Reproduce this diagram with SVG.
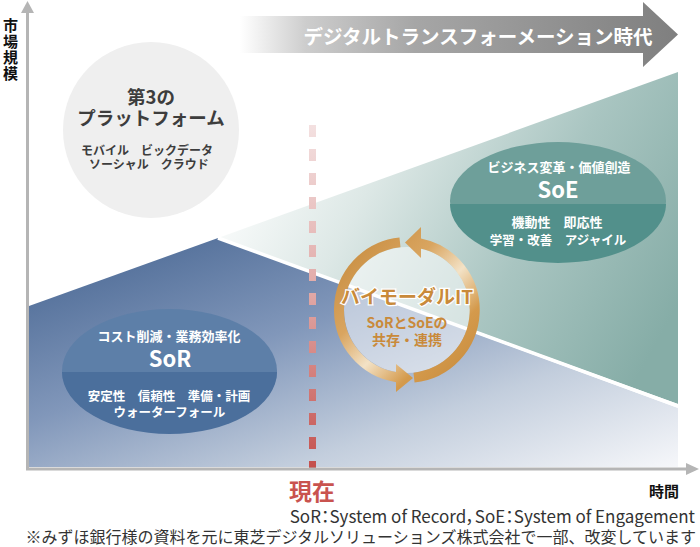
<svg xmlns="http://www.w3.org/2000/svg" width="700" height="547" viewBox="0 0 700 547">
<defs>
<style>
text{font-family:"Noto Sans CJK JP","Noto Sans",sans-serif;dominant-baseline:central;text-anchor:middle}
.b{font-weight:700}
.w{fill:#ffffff;font-weight:700}
.g{fill:#3d3d3d;font-weight:700}
.o{fill:#c98a3a;font-weight:700}
.axis{stroke:#b5b5b5;stroke-width:3;fill:none}
.ring{fill:none;stroke:url(#ringG);stroke-width:10}
</style>
<linearGradient id="dxG" gradientUnits="userSpaceOnUse" x1="240" y1="0" x2="678" y2="0">
<stop offset="0" stop-color="#ffffff"/>
<stop offset="0.15" stop-color="#cdcdcd"/>
<stop offset="0.4" stop-color="#a6a6a6"/>
<stop offset="1" stop-color="#7f7f7f"/>
</linearGradient>
<linearGradient id="blueG" x1="0" y1="0" x2="1" y2="1">
<stop offset="0" stop-color="#43628f"/>
<stop offset="0.4" stop-color="#8197ba"/>
<stop offset="0.7" stop-color="#c3cedd"/>
<stop offset="1" stop-color="#f6f7fa"/>
</linearGradient>
<linearGradient id="tealG" x1="0" y1="0.3" x2="1" y2="0.7">
<stop offset="0" stop-color="#ffffff"/>
<stop offset="0.3" stop-color="#dde8e6"/>
<stop offset="0.65" stop-color="#a9c5c1"/>
<stop offset="1" stop-color="#86ada7"/>
</linearGradient>
<linearGradient id="dashG" gradientUnits="userSpaceOnUse" x1="0" y1="120" x2="0" y2="468">
<stop offset="0" stop-color="#f4e2e2"/>
<stop offset="0.5" stop-color="#e0a8a6"/>
<stop offset="1" stop-color="#c4504d"/>
</linearGradient>
<linearGradient id="ringG" gradientUnits="userSpaceOnUse" x1="339" y1="242" x2="475" y2="378">
<stop offset="0" stop-color="#c68a3c"/>
<stop offset="0.35" stop-color="#d9a560"/>
<stop offset="0.55" stop-color="#f3e2c6"/>
<stop offset="0.75" stop-color="#d49a4c"/>
<stop offset="1" stop-color="#c68a3c"/>
</linearGradient>
</defs>
<rect width="700" height="547" fill="#ffffff"/>

<g id="dx-arrow">
<polygon points="240,16 643,16 643,2 678,34.5 643,67 643,53 240,53" fill="url(#dxG)"/>
<text x="478" y="35" class="w" font-size="19.5">デジタルトランスフォーメーション時代</text>
</g>

<g id="soe-area">
<polygon points="218,238 678,72 678,404" fill="url(#tealG)"/>
</g>
<g id="sor-area">
<polygon points="29,306 218,238 678,408 678,467 29,467" fill="url(#blueG)"/>
</g>
<g id="separator">
<line x1="218" y1="238" x2="678" y2="406" stroke="#ffffff" stroke-width="3.5"/>
</g>

<g id="third-platform">
<circle cx="151" cy="130" r="88" fill="#efefef"/>
<text class="g" font-size="18.5"><tspan x="151" y="96">第3の</tspan><tspan x="151" y="116.5">プラットフォーム</tspan></text>
<text class="g" font-size="12"><tspan x="147" y="148.5">モバイル　ビックデータ</tspan><tspan x="149" y="162.5">ソーシャル　クラウド</tspan></text>
</g>

<g id="soe">
<ellipse cx="558" cy="201" rx="108" ry="59" fill="#6e9f9a"/>
<path d="M450,204 A108,59 0 0 0 666,204 Z" fill="#52908b"/>
<text x="559" y="166" class="w" font-size="13">ビジネス変革・価値創造</text>
<text x="558" y="188" class="w" font-size="22">SoE</text>
<text class="w" font-size="13"><tspan x="557" y="221">機動性　即応性</tspan><tspan x="558" y="239" font-size="12.5">学習・改善　アジャイル</tspan></text>
</g>

<g id="sor">
<ellipse cx="169.5" cy="371" rx="107.5" ry="62" fill="#5d7fa8"/>
<path d="M62,372 A107.5,62 0 0 0 277,372 Z" fill="#4b6f9c"/>
<text x="169" y="335" class="w" font-size="13">コスト削減・業務効率化</text>
<text x="170" y="357" class="w" font-size="22">SoR</text>
<text class="w" font-size="12.5"><tspan x="169" y="395">安定性　信頼性　準備・計画</tspan><tspan x="169.5" y="411">ウォーターフォール</tspan></text>
</g>

<g id="connectors">
<line id="now-line" x1="312.5" y1="125" x2="312.5" y2="468" stroke="url(#dashG)" stroke-width="7" stroke-dasharray="12 12"/>
<line x1="27.5" y1="10" x2="27.5" y2="470" class="axis"/>
<polygon points="21,13 27.5,1 34,13" fill="#b5b5b5"/>
<line x1="26" y1="469" x2="688" y2="469" class="axis"/>
<polygon points="686,463 699,469 686,475" fill="#b5b5b5"/>
</g>

<g id="bimodal">
<circle cx="407" cy="310" r="63" fill="#ffffff" fill-opacity="0.5"/>
<path class="ring" d="M400,242.4 A68,68 0 0 0 397,377.3"/>
<polygon points="396,364 396,392 413,378" fill="url(#ringG)"/>
<path class="ring" d="M414,377.6 A68,68 0 0 0 420,243.3"/>
<polygon points="421,227 421,258 405,242.5" fill="url(#ringG)"/>
<text x="407" y="295" class="o" font-size="19" stroke="#ffffff" stroke-width="2.5" paint-order="stroke">バイモーダルIT</text>
<text class="o" font-size="14"><tspan x="407" y="322">SoRとSoEの</tspan><tspan x="407" y="339">共存・連携</tspan></text>
</g>

<g id="labels">
<text x="10.5" y="18" class="b" font-size="15" fill="#111" style="writing-mode:vertical-rl;text-anchor:start;letter-spacing:1px">市場規模</text>
<text x="312" y="490" class="b" font-size="23" fill="#c9534f">現在</text>
<text x="664" y="490" class="b" font-size="15" fill="#111">時間</text>
<text x="695" y="515" font-size="17" fill="#333" style="text-anchor:end;font-feature-settings:'palt'">SoR：System of Record，SoE：System of Engagement</text>
<text x="696" y="536" font-size="16" fill="#333" style="text-anchor:end">※みずほ銀行様の資料を元に東芝デジタルソリューションズ株式会社で一部、改変しています</text>
</g>
</svg>
